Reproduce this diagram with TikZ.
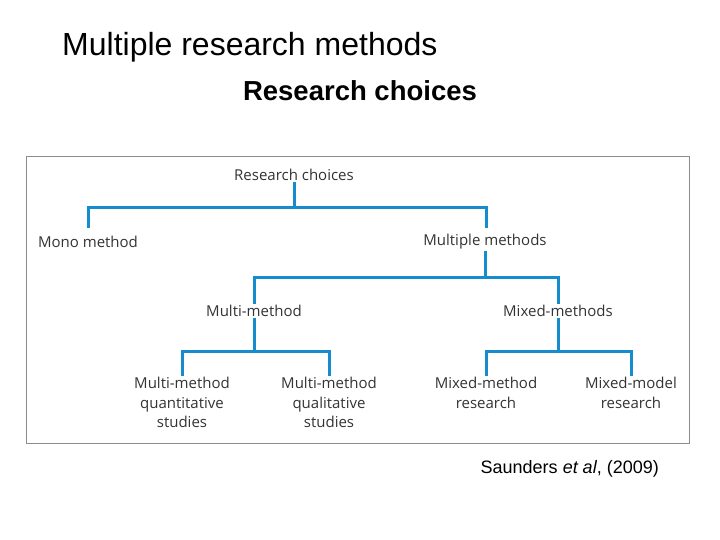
\documentclass[tikz,border=0pt]{standalone}
\usepackage{fontspec}
\setmainfont{Liberation Sans}
\newfontfamily\diafont{Open Sans}
\begin{document}
\begin{tikzpicture}[x=1pt,y=-1pt,
  lbl/.style={font=\diafont\fontsize{15}{19.5}\selectfont,text=black!80,align=center,inner sep=1pt},
  br/.style={draw={rgb,255:red,20;green,140;blue,205},line width=3pt}]
\useasboundingbox (0,0) rectangle (720,540);
\node[anchor=west,font=\fontsize{32}{36}\selectfont,inner sep=0pt] (t1) at (62,47) {Multiple research methods};
\node[font=\bfseries\fontsize{27.5}{30}\selectfont] (t2) at (360,91) {Research choices};
\node[anchor=east,font=\fontsize{18}{20}\selectfont,inner sep=0pt] (src) at (659,469) {Saunders \textit{et al}, (2009)};
\draw[black!45,line width=1pt] (26,157) rectangle (689,443);
\node[lbl] (rc) at (294,175) {Research choices};
\node[lbl] (mono) at (88,242) {Mono method};
\node[lbl] (mult) at (485,242) {Multiple methods};
\node[lbl] (mm) at (254,311) {Multi-method};
\node[lbl] (mx) at (558,311) {Mixed-methods};
\node[lbl,anchor=north] (l1) at (182,376) {Multi-method\\quantitative\\studies};
\node[lbl,anchor=north] (l2) at (329,376) {Multi-method\\qualitative\\studies};
\node[lbl,anchor=north] (l3) at (486,376) {Mixed-method\\research};
\node[lbl,anchor=north] (l4) at (631,376) {Mixed-model\\research};
\coordinate (j1) at (294,208);
\coordinate (j2) at (485,277);
\coordinate (j3) at (254,351);
\coordinate (j4) at (558,351);
\draw[br] (rc.south) -- (j1);
\draw[br] (88,228) |- (j1) -| (486,228);
\draw[br] (mult.south) -- (j2);
\draw[br] (mm.north) |- (j2) -| (mx.north);
\draw[br] (mm.south) -- (j3);
\draw[br] (l1.north) |- (j3) -| (l2.north);
\draw[br] (mx.south) -- (j4);
\draw[br] (l3.north) |- (j4) -| (l4.north);
\end{tikzpicture}
\end{document}
